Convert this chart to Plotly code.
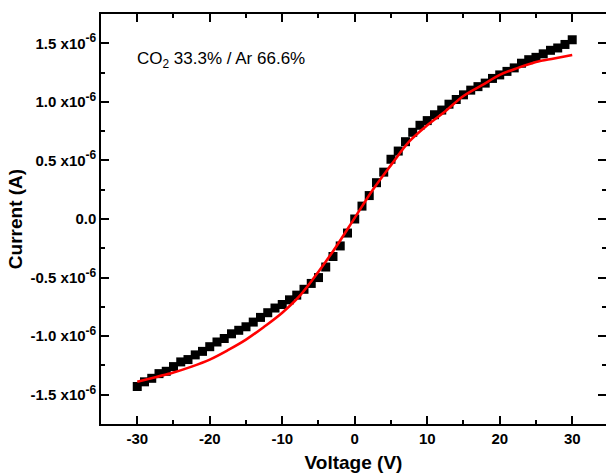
import plotly.graph_objects as go

# Measured data (voltage in V, current in units of 1e-6 A)
voltage = list(range(-30, 31))
current = [
    -1.43, -1.39, -1.36, -1.32, -1.30, -1.26, -1.22, -1.20, -1.16, -1.13,
    -1.09, -1.05, -1.02, -0.98, -0.95, -0.92, -0.88, -0.84, -0.80, -0.76,
    -0.73, -0.69, -0.65, -0.60, -0.55, -0.50, -0.41, -0.32, -0.23, -0.12,
    0.00, 0.11, 0.20, 0.31, 0.40, 0.51, 0.58, 0.66, 0.74, 0.80,
    0.84, 0.89, 0.93, 0.98, 1.02, 1.06, 1.10, 1.13, 1.16, 1.20,
    1.23, 1.26, 1.29, 1.33, 1.36, 1.38, 1.41, 1.44, 1.46, 1.49, 1.53,
]

# Fit curve
fit_voltage = [-30, -27.5, -25, -22.5, -20, -17.5, -15, -12.5, -10, -7.5, -5, -2.5,
               0, 2.5, 5, 7.5, 10, 12.5, 15, 17.5, 20, 22.5, 25, 27.5, 30]
fit_current = [-1.39, -1.35, -1.31, -1.26, -1.20, -1.12, -1.03, -0.92, -0.80, -0.65,
               -0.45, -0.23, 0.01, 0.25, 0.46, 0.66, 0.80, 0.92, 1.05, 1.14,
               1.23, 1.29, 1.34, 1.37, 1.40]

y_tickvals = [-1.5, -1.0, -0.5, 0.0, 0.5, 1.0, 1.5]
y_ticklabels = ["-1.5", "-1.0", "-0.5", "0.0", "0.5", "1.0", "1.5"]
y_ticktext = [
    "<b>0.0</b>" if t == "0.0"
    else "<b>" + t + " x10<sup><span style='font-size:12px'>-6</span></sup></b>"
    for t in y_ticklabels
]
x_tickvals = [-30, -20, -10, 0, 10, 20, 30]
x_ticktext = ["<b>" + str(v) + "</b>" for v in x_tickvals]

fig = go.Figure()
fig.add_trace(go.Scatter(
    x=voltage, y=current, mode="markers",
    marker=dict(symbol="square", size=9, color="black", line=dict(width=0)),
    showlegend=False,
))
fig.add_trace(go.Scatter(
    x=fit_voltage, y=fit_current, mode="lines",
    line=dict(color="#ff0000", width=2.6, shape="spline", smoothing=1.0),
    showlegend=False,
))

font_family = "Liberation Sans, Arial, sans-serif"

L, R, T, B = 101, 0, 14, 52
W, H = 606, 476

fig.update_layout(
    width=W, height=H,
    margin=dict(l=L, r=R, t=T, b=B, autoexpand=False),
    paper_bgcolor="white", plot_bgcolor="white",
    font=dict(family=font_family, color="black"),
    xaxis=dict(
        range=[-35, 34.66], automargin=False,
        tickvals=x_tickvals, ticktext=x_ticktext,
        ticks="inside", ticklen=8, tickwidth=1.5, tickcolor="black",
        minor=dict(dtick=5, tick0=0, ticks="inside", ticklen=4, tickwidth=1.5, tickcolor="black"),
        showline=True, linecolor="black", linewidth=1.5, mirror="ticks",
        showgrid=False, zeroline=False,
        tickfont=dict(size=15, family=font_family),
        title=dict(text="<b>Voltage (V)</b>", font=dict(size=19), standoff=10),
    ),
    yaxis=dict(
        range=[-1.75, 1.75], automargin=False,
        tickvals=y_tickvals, ticktext=y_ticktext,
        ticks="inside", ticklen=8, tickwidth=1.5, tickcolor="black",
        minor=dict(dtick=0.25, tick0=0, ticks="inside", ticklen=4, tickwidth=1.5, tickcolor="black"),
        showline=True, linecolor="black", linewidth=1.5, mirror="ticks",
        showgrid=False, zeroline=False,
        tickfont=dict(size=15, family=font_family),
        title=dict(text="<b>Current (A)</b>", font=dict(size=19), standoff=3),
    ),
    annotations=[dict(
        text="CO<sub>2</sub> 33.3% / Ar 66.6%",
        x=(135 - L) / (W - L - R), y=1 - (60 - T) / (H - T - B),
        xref="paper", yref="paper", showarrow=False,
        font=dict(size=17, family=font_family, color="black"),
        xanchor="left", yanchor="middle",
    )],
)

fig.write_html(
    "out.html",
    config={"displayModeBar": False},
    post_script="document.body.style.margin='0';document.body.style.padding='0';",
)
